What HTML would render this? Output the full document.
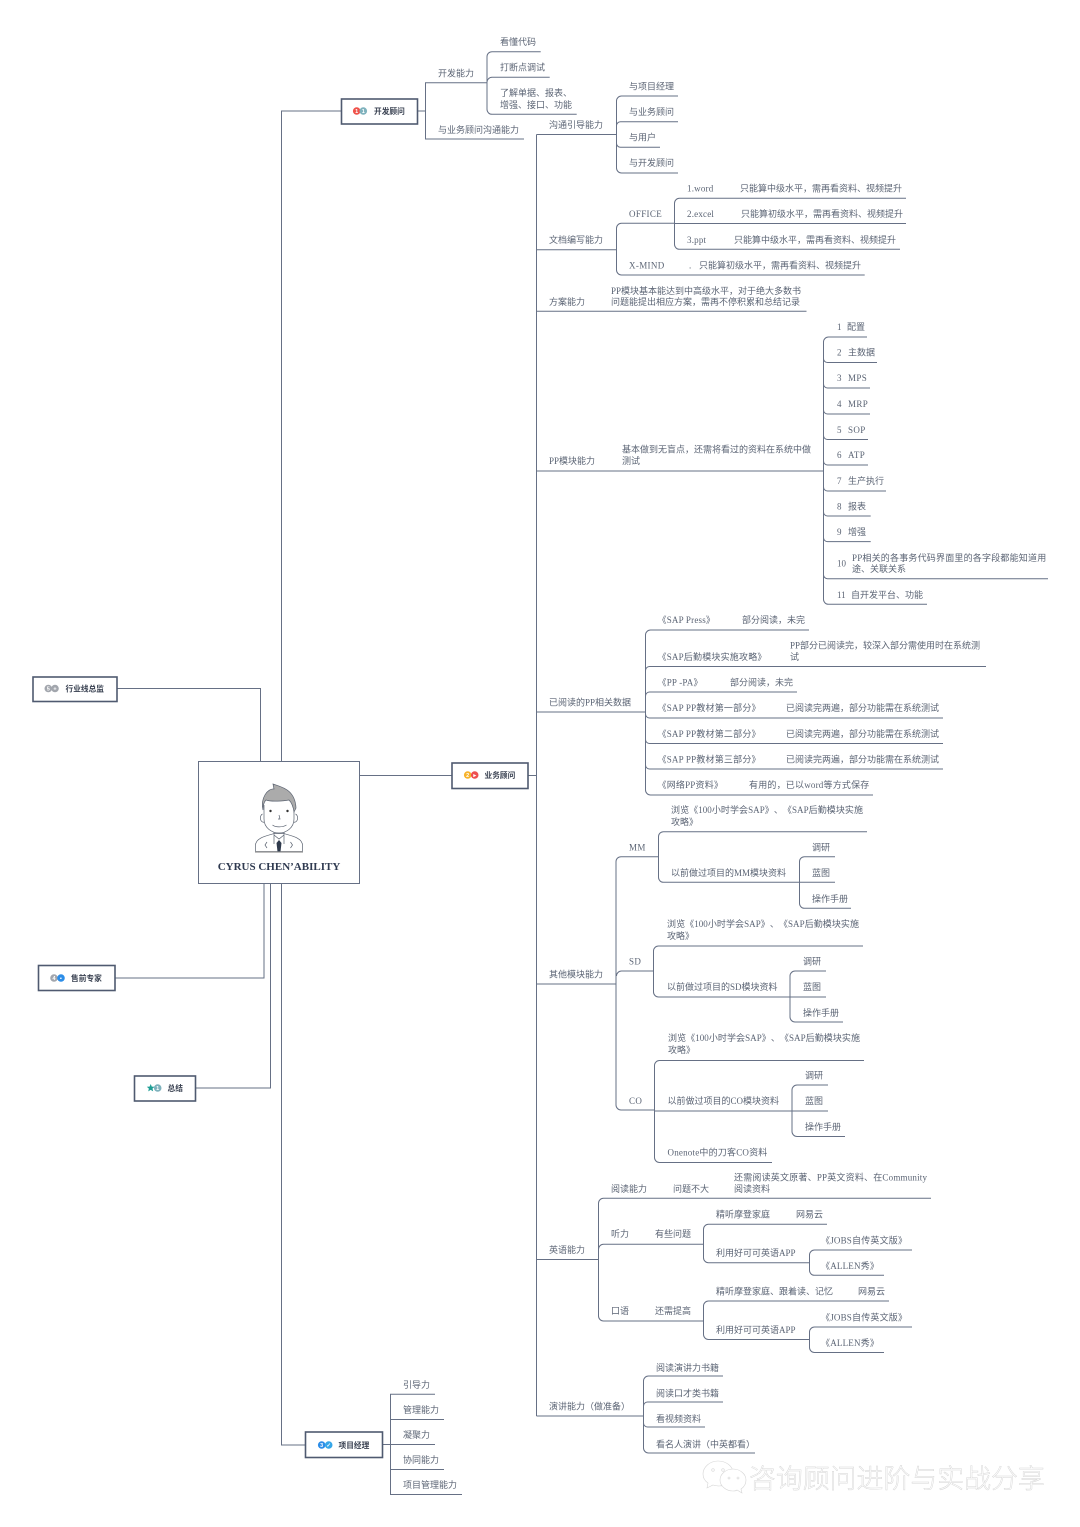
<!DOCTYPE html>
<html lang="zh">
<head>
<meta charset="utf-8">
<title>CYRUS CHEN'ABILITY</title>
<style>
html,body{margin:0;padding:0;background:#fff;}
svg{display:block;}
text{font-family:"Liberation Serif","Noto Sans CJK SC",serif;font-size:9px;fill:#5b6474;text-spacing-trim:space-all;}
.a{letter-spacing:.2px;}
.b{letter-spacing:.35px;}
.l path{fill:none;stroke:#667085;stroke-width:1;}
.n{fill:#fff;stroke:#4f5a70;stroke-width:1.6;}
.t{font-family:"Liberation Sans","Noto Sans CJK SC",sans-serif;font-size:7.7px;font-weight:bold;fill:#3a4252;}
.m{font-family:"Liberation Sans",sans-serif;font-size:5.5px;fill:#fff;text-anchor:middle;font-weight:bold;}
.w{font-family:"Noto Sans CJK SC",sans-serif;font-size:26.9px;font-weight:300;fill:#fff;stroke:#d4d4d4;stroke-width:.45;}
</style>
</head>
<body>
<svg xmlns="http://www.w3.org/2000/svg" width="1080" height="1527" viewBox="0 0 1080 1527">
<rect width="1080" height="1527" fill="#fff"/>

<g class="l">
<!-- main connectors -->
<path d="M341 111H281.5V761"/>
<path d="M117 688.5H260.5V761"/>
<path d="M115 978H264V884"/>
<path d="M196 1088H270.5V884"/>
<path d="M305 1445H281.5V884"/>
<path d="M360 775.5H452"/>
<path d="M528 775.5H536.5"/>
<path d="M536.5 134.5V1416"/>
<!-- top node -->
<path d="M417 111H425.5"/>
<path d="M487 82.7H425.5V139H524"/>
<path d="M540.7 51.7H492a5 5 0 0 0-5 5V109.300a5 5 0 0 0 5 5H576.700"/>
<path d="M487 82.700a5 5 0 0 1 5-5.400H549.700"/>
<!-- trunk branches -->
<path d="M536.500 134.500H616.500"/>
<path d="M536.500 249.800H616.500"/>
<path d="M536.500 311.300H806.500"/>
<path d="M536.500 471H823.500"/>
<path d="M536.500 712H645.500"/>
<path d="M536.500 984H616.500"/>
<path d="M536.500 1259.500H598.500"/>
<path d="M536.500 1416H643.500"/>
<!-- comm -->
<path d="M678 96H621.500a5 5 0 0 0-5 5V168a5 5 0 0 0 5 5H678"/>
<path d="M616.500 126a4 4 0 0 1 4-4.300H678"/>
<path d="M616.500 143a4 4 0 0 0 4 4.300H660"/>
<!-- doc -->
<path d="M674.500 223.300H621.500a5 5 0 0 0-5 5V270a5 5 0 0 0 5 5H864.700"/>
<path d="M906 198.300H679.500a5 5 0 0 0-5 5V244.300a5 5 0 0 0 5 5H900"/>
<path d="M674.500 223.500H906"/>
<!-- pp module -->
<path d="M867 337H828.500a5 5 0 0 0-5 5V599.300a5 5 0 0 0 5 5H927"/>
<path d="M823.500 358a4 4 0 0 0 4 4.500H877"/>
<path d="M823.500 384a4 4 0 0 0 4 4H870"/>
<path d="M823.500 410a4 4 0 0 0 4 4H870"/>
<path d="M823.500 435.500a4 4 0 0 0 4 4H868"/>
<path d="M823.500 461a4 4 0 0 0 4 4H868"/>
<path d="M823.500 487a4 4 0 0 0 4 4H886"/>
<path d="M823.500 512a4 4 0 0 0 4 4H870.700"/>
<path d="M823.500 537.600a4 4 0 0 0 4 4H870.700"/>
<path d="M823.500 574.700a4 4 0 0 0 4 4H1048"/>
<!-- read -->
<path d="M809 630H650.500a5 5 0 0 0-5 5V790a5 5 0 0 0 5 5H873"/>
<path d="M645.500 670.500a4 4 0 0 1 4-4H986"/>
<path d="M645.500 696a4 4 0 0 1 4-4H797"/>
<path d="M645.500 714a4 4 0 0 0 4 4H943"/>
<path d="M645.500 739.500a4 4 0 0 0 4 4H943"/>
<path d="M645.500 765a4 4 0 0 0 4 4H943"/>
<!-- other -->
<path d="M658.500 856.700H621a5 5 0 0 0-5 5V1105a5 5 0 0 0 5 5H654.500"/>
<path d="M616.500 976a5 5 0 0 1 5-5H653.500"/>
<!-- MM -->
<path d="M867 831.700H663.500a5 5 0 0 0-5 5V877.300a5 5 0 0 0 5 5H835"/>
<path d="M835 856.700H804.500a5 5 0 0 0-5 5V903.300a5 5 0 0 0 5 5H851"/>
<!-- SD -->
<path d="M863 946H658.500a5 5 0 0 0-5 5V992a5 5 0 0 0 5 5H826"/>
<path d="M826 971H795a5 5 0 0 0-5 5V1017a5 5 0 0 0 5 5H843"/>
<!-- CO -->
<path d="M864 1060.500H659.500a5 5 0 0 0-5 5V1157.500a5 5 0 0 0 5 5H772"/>
<path d="M654.500 1111H828"/>
<path d="M828 1085H797a5 5 0 0 0-5 5V1131.500a5 5 0 0 0 5 5H845"/>
<!-- english -->
<path d="M931 1198.300H603.500a5 5 0 0 0-5 5V1316a5 5 0 0 0 5 5H703.500"/>
<path d="M598.500 1249.300a5 5 0 0 1 5-5H703.500"/>
<path d="M827 1224.300H708.500a5 5 0 0 0-5 5V1257.700a5 5 0 0 0 5 5H809.500"/>
<path d="M912 1250H814.500a5 5 0 0 0-5 5V1270.300a5 5 0 0 0 5 5H884"/>
<path d="M889 1301H708.500a5 5 0 0 0-5 5V1334.500a5 5 0 0 0 5 5H809.500"/>
<path d="M912 1327H814.500a5 5 0 0 0-5 5V1347.500a5 5 0 0 0 5 5H884"/>
<!-- speech -->
<path d="M723 1376H648.500a5 5 0 0 0-5 5V1448a5 5 0 0 0 5 5H755"/>
<path d="M643.500 1406a4 4 0 0 1 4-4H723"/>
<path d="M643.500 1423a4 4 0 0 0 4 4H705"/>
<!-- pm -->
<path d="M382 1444.500H435"/>
<path d="M435 1394.300H390.500V1494.500H462"/>
<path d="M390.500 1419.500H444"/>
<path d="M390.500 1469.500H444"/>
</g>

<!-- center box -->
<rect x="198.500" y="761.500" width="161" height="122" fill="#fff" stroke="#667085"/>
<!-- person -->
<g fill="none" stroke="#5a6270" stroke-width=".7">
<path d="M262.500 814a3 4 0 0 0 2 8M295.500 814a3 4 0 0 1-2 8" fill="#fff"/>
<path d="M264 805V819c0 9 8 14 15 14s15-5 15-14V805" fill="#fff"/>
<path d="M263 810c-3-12 5-22 11-21l-1-5c8 3 22 5 23 24l-2 4c-1-7-3-10-5-12-5 1-18 2-23 0-2 2-3 5-3 10z" fill="#ababab"/>
<path d="M255.500 851.500v-6c0-7 8-9 19-12h9c11 3 19 5 19 12v6z" fill="#fff"/>
<path d="M274 832v12M284 832v12M274 835l5 4 5-4M267 842l-2 3 2 3M290.500 842l2 3-2 3"/>
<path d="M272.500 825c3 2.500 10 2.500 14 0"/>
<path d="M279 815l1 4h-2"/>
<path d="M255 852H303" stroke="#999" stroke-width="1.200"/>
</g>
<circle cx="270.500" cy="811" r="1.200" fill="#333"/>
<circle cx="287.500" cy="811" r="1.200" fill="#333"/>
<path d="M279 840l2.500 3-1 8.500h-3l-1-8.500z" fill="#2f3a4c"/>
<text x="279" y="870" text-anchor="middle" style="font-size:11px;font-weight:bold;fill:#2f3a50;">CYRUS CHEN’ABILITY</text>

<!-- nodes -->
<rect class="n" x="341.500" y="99" width="76" height="25"/>
<circle cx="356.700" cy="111" r="3.800" fill="#f0524a"/><circle cx="363.300" cy="111" r="3.800" fill="#7fb2bd"/>
<text class="m" x="356.700" y="113">1</text><text class="m" x="363.300" y="113">1</text>
<text class="t" x="374" y="114">开发顾问</text>

<rect class="n" x="452" y="763" width="76" height="25.500"/>
<circle cx="467.700" cy="775" r="3.800" fill="#f7b32b"/><circle cx="474.700" cy="775" r="3.800" fill="#ee4f4f"/>
<text class="m" x="467.700" y="777">2</text><text class="m" x="474.700" y="777">▸</text>
<text class="t" x="484.500" y="778">业务顾问</text>

<rect class="n" x="33" y="677" width="84" height="24.500"/>
<circle cx="48.300" cy="688.500" r="3.800" fill="#a2a6ad"/><circle cx="55" cy="688.500" r="3.800" fill="#a2a6ad"/>
<text class="m" x="48.300" y="690.500">5</text><text class="m" x="55" y="690.500">+</text>
<text class="t" x="65.500" y="691.500">行业线总监</text>

<rect class="n" x="38.500" y="965.500" width="76.500" height="25"/>
<circle cx="54" cy="978" r="3.800" fill="#a2a6ad"/><circle cx="61" cy="978" r="3.800" fill="#2c8de8"/>
<text class="m" x="54" y="980">4</text><text class="m" x="61" y="980">▪</text>
<text class="t" x="71" y="981">售前专家</text>

<rect class="n" x="134.500" y="1076" width="61" height="25"/>
<path d="M150.700 1084l1.100 2.600 2.800.2-2.100 1.800.7 2.800-2.500-1.500-2.500 1.500.7-2.800-2.100-1.800 2.800-.2z" fill="#1f9e95"/>
<circle cx="157.700" cy="1088" r="3.800" fill="#7fb2bd"/><text class="m" x="157.700" y="1090">1</text>
<text class="t" x="167.500" y="1091">总结</text>

<rect class="n" x="305.500" y="1432" width="77" height="25.500"/>
<circle cx="321.700" cy="1445" r="3.800" fill="#2c8de8"/><circle cx="328.700" cy="1445" r="3.800" fill="#35a6e8"/>
<text class="m" x="321.700" y="1447">3</text><text class="m" x="328.700" y="1447">✓</text>
<text class="t" x="338.500" y="1448">项目经理</text>

<!-- top -->
<text x="500" y="45">看懂代码</text>
<text x="500" y="70.500">打断点调试</text>
<text x="500" y="96">了解单据、报表、</text>
<text x="500" y="108">增强、接口、功能</text>
<text x="438" y="76.500">开发能力</text>
<text x="438" y="133">与业务顾问沟通能力</text>
<text x="549" y="128">沟通引导能力</text>
<text x="629" y="89.500">与项目经理</text>
<text x="629" y="115">与业务顾问</text>
<text x="629" y="140.500">与用户</text>
<text x="629" y="166">与开发顾问</text>

<!-- doc -->
<text x="549" y="243">文档编写能力</text>
<text class="b" x="629" y="217">OFFICE</text>
<text class="b" x="629" y="268.500">X-MIND</text>
<text class="a" x="687" y="191.500">1.word</text>
<text x="740" y="191.500">只能算中级水平，需再看资料、视频提升</text>
<text class="a" x="687" y="217">2.excel</text>
<text x="741" y="217">只能算初级水平，需再看资料、视频提升</text>
<text class="a" x="687" y="243">3.ppt</text>
<text x="734" y="243">只能算中级水平，需再看资料、视频提升</text>
<text x="689" y="268.500">.</text>
<text x="699" y="268.500">只能算初级水平，需再看资料、视频提升</text>
<text x="549" y="305">方案能力</text>
<text x="611" y="294">PP模块基本能达到中高级水平，对于绝大多数书</text>
<text x="611" y="305">问题能提出相应方案，需再不停积累和总结记录</text>

<!-- PP -->
<text x="549" y="464">PP模块能力</text>
<text x="622" y="452.500">基本做到无盲点，还需将看过的资料在系统中做</text>
<text x="622" y="464">测试</text>
<text x="837" y="330">1</text><text x="847" y="330">配置</text>
<text x="837" y="355.500">2</text><text x="848" y="355.500">主数据</text>
<text x="837" y="381">3</text><text class="b" x="848" y="381">MPS</text>
<text x="837" y="407">4</text><text class="b" x="848" y="407">MRP</text>
<text x="837" y="433">5</text><text class="b" x="848" y="433">SOP</text>
<text x="837" y="458">6</text><text class="b" x="848" y="458">ATP</text>
<text x="837" y="484">7</text><text x="848" y="484">生产执行</text>
<text x="837" y="509.500">8</text><text x="848" y="509.500">报表</text>
<text x="837" y="535">9</text><text x="848" y="535">增强</text>
<text x="837" y="566.500">10</text>
<text class="a" x="852" y="561">PP相关的各事务代码界面里的各字段都能知道用</text>
<text x="852" y="572">途、关联关系</text>
<text x="837" y="598">11</text><text x="851" y="598">自开发平台、功能</text>

<!-- read -->
<text x="549" y="705.500">已阅读的PP相关数据</text>
<text class="a" x="657.500" y="623">《SAP Press》</text><text x="742" y="623">部分阅读，未完</text>
<text class="a" x="657.500" y="660">《SAP后勤模块实施攻略》</text>
<text x="790" y="648.500">PP部分已阅读完，较深入部分需使用时在系统测</text>
<text x="790" y="660">试</text>
<text class="a" x="657.500" y="685.500">《PP -PA》</text><text x="730" y="685.500">部分阅读，未完</text>
<text class="a" x="657.500" y="711">《SAP PP教材第一部分》</text><text x="786" y="711">已阅读完两遍，部分功能需在系统测试</text>
<text class="a" x="657.500" y="737">《SAP PP教材第二部分》</text><text x="786" y="737">已阅读完两遍，部分功能需在系统测试</text>
<text class="a" x="657.500" y="762.500">《SAP PP教材第三部分》</text><text x="786" y="762.500">已阅读完两遍，部分功能需在系统测试</text>
<text class="a" x="657.500" y="788">《网络PP资料》</text><text class="a" x="749" y="788">有用的，已以word等方式保存</text>

<!-- other -->
<text x="549" y="977.500">其他模块能力</text>
<text class="b" x="629" y="850.500">MM</text>
<text x="671" y="813" textLength="192" lengthAdjust="spacing">浏览《100小时学会SAP》、《SAP后勤模块实施</text>
<text x="671" y="825">攻略》</text>
<text x="671" y="876">以前做过项目的MM模块资料</text>
<text x="812" y="850.500">调研</text><text x="812" y="876">蓝图</text><text x="812" y="902">操作手册</text>
<text class="b" x="629" y="964.500">SD</text>
<text x="667" y="927" textLength="192" lengthAdjust="spacing">浏览《100小时学会SAP》、《SAP后勤模块实施</text>
<text x="667" y="939">攻略》</text>
<text x="667" y="990">以前做过项目的SD模块资料</text>
<text x="803" y="964.500">调研</text><text x="803" y="990">蓝图</text><text x="803" y="1016">操作手册</text>
<text class="b" x="629" y="1104">CO</text>
<text x="668" y="1041" textLength="192" lengthAdjust="spacing">浏览《100小时学会SAP》、《SAP后勤模块实施</text>
<text x="668" y="1053">攻略》</text>
<text x="667.500" y="1104">以前做过项目的CO模块资料</text>
<text x="805" y="1078.500">调研</text><text x="805" y="1104">蓝图</text><text x="805" y="1130">操作手册</text>
<text class="a" x="667.500" y="1155.500">Onenote中的刀客CO资料</text>

<!-- english -->
<text x="549" y="1253">英语能力</text>
<text x="611" y="1192">阅读能力</text><text x="673" y="1192">问题不大</text>
<text x="734" y="1180.500" textLength="193" lengthAdjust="spacing">还需阅读英文原著、PP英文资料、在Community</text>
<text x="734" y="1192">阅读资料</text>
<text x="611" y="1237">听力</text><text x="655" y="1237">有些问题</text>
<text x="716" y="1217.500">精听摩登家庭</text><text x="796" y="1217.500">网易云</text>
<text x="716" y="1256">利用好可可英语APP</text>
<text class="a" x="821" y="1243.500">《JOBS自传英文版》</text>
<text class="a" x="821" y="1269">《ALLEN秀》</text>
<text x="611" y="1314">口语</text><text x="655" y="1314">还需提高</text>
<text x="716" y="1294.500">精听摩登家庭、跟着读、记忆</text><text x="858" y="1294.500">网易云</text>
<text x="716" y="1333">利用好可可英语APP</text>
<text class="a" x="821" y="1320.500">《JOBS自传英文版》</text>
<text class="a" x="821" y="1346">《ALLEN秀》</text>

<!-- speech -->
<text x="549" y="1409.500">演讲能力（做准备）</text>
<text x="656" y="1371">阅读演讲力书籍</text>
<text x="656" y="1396.500">阅读口才类书籍</text>
<text x="656" y="1422">看视频资料</text>
<text x="656" y="1447.500">看名人演讲（中英都看）</text>

<!-- pm -->
<text x="403" y="1388">引导力</text>
<text x="403" y="1413">管理能力</text>
<text x="403" y="1438">凝聚力</text>
<text x="403" y="1463">协同能力</text>
<text x="403" y="1488">项目管理能力</text>

<!-- watermark -->
<g fill="#fff" stroke="#d6d6d6" stroke-width=".6">
<path d="M718 1461c-8 0-15 6-15 13 0 4 2 7 5 9l-1 5 6-3c2 .5 4 1 6 1 8 0 14-6 14-13s-7-12-15-12z"/>
<path d="M733 1469c-7 0-13 5-13 11s6 11 13 11c1 0 3 0 4-1l5 3-1-4c3-2 5-5 5-9 0-6-6-11-13-11z"/>
<circle cx="713" cy="1470" r="1.300"/><circle cx="723" cy="1470" r="1.300"/>
<circle cx="729" cy="1478" r="1"/><circle cx="738" cy="1478" r="1"/>
</g>
<text class="w" x="749" y="1488">咨询顾问进阶与实战分享</text>
</svg>
</body>
</html>
